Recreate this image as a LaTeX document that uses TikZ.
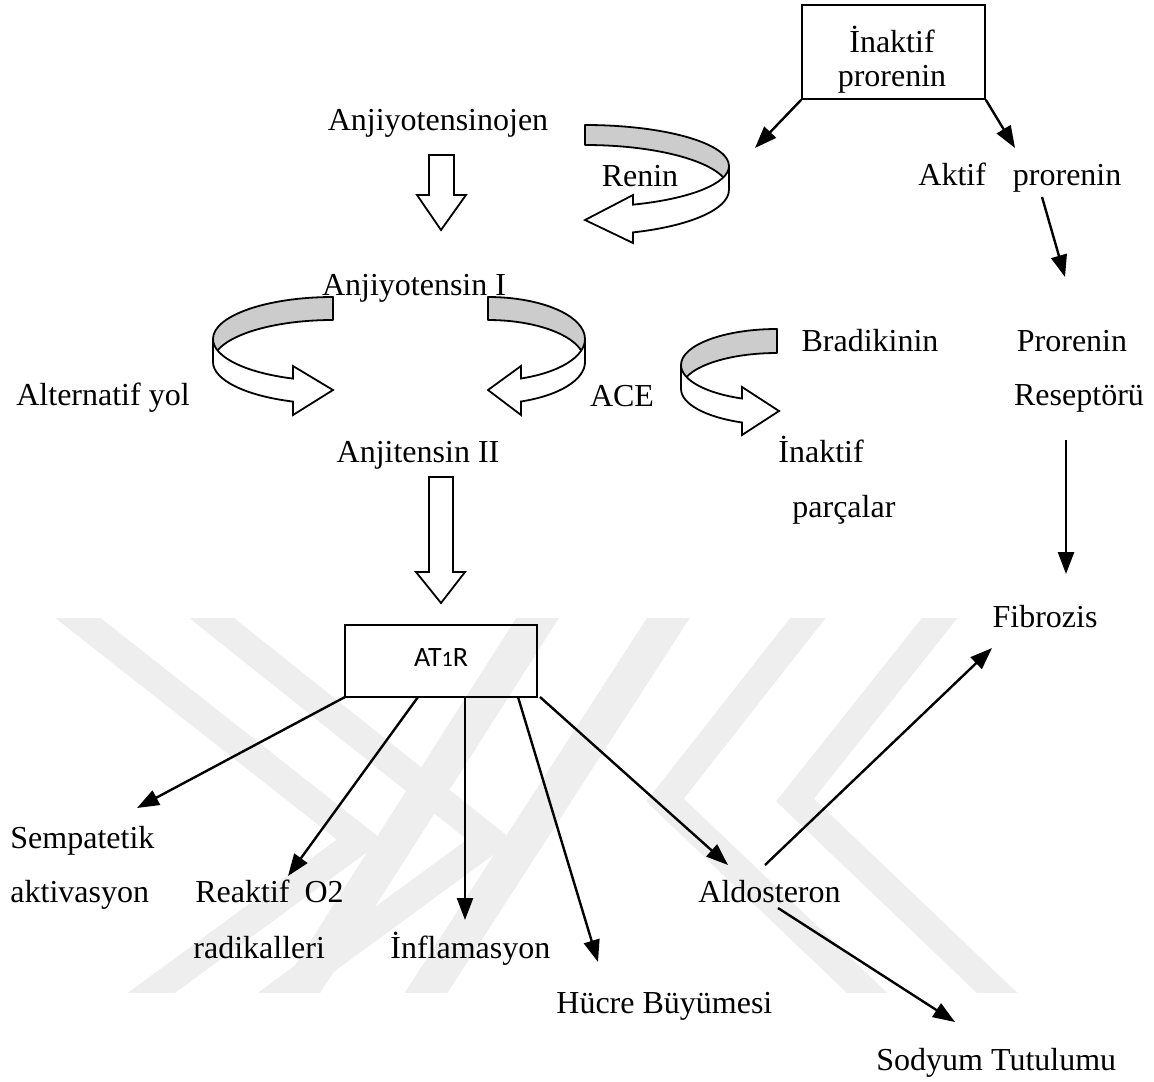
\documentclass[tikz,border=0pt]{standalone}
\usepackage{fontspec}
\setmainfont{Liberation Serif}
\newfontfamily\calfont{Carlito}
\usetikzlibrary{arrows.meta}
\definecolor{wm}{HTML}{EEEEEE}
\definecolor{ribbongray}{HTML}{CCCCCC}
\tikzset{
  lbl/.style={inner sep=0pt, font=\fontsize{16}{19}\selectfont},
  arr/.style={line width=1.2pt, -{Triangle[length=11pt,width=8pt]}},
  boxed/.style={draw, line width=0.8pt},
  ribbonback/.style={fill=ribbongray, draw, line width=0.9pt, line join=round},
  ribbonfront/.style={fill=white, draw, line width=0.9pt, line join=miter},
  hollow/.style={fill=white, draw, line width=0.9pt},
  wmline/.style={draw=wm, line width=14pt, line join=miter, line cap=butt},
  wmwide/.style={draw=wm, line width=18pt, line cap=butt}
}
\begin{document}
\begin{tikzpicture}[x=0.5pt, y=-0.5pt]
\useasboundingbox (0,0) rectangle (1154,1081);
% watermark
\begin{scope}
\clip (0,618) rectangle (1154,992);
\draw[wmline] (55,600) -- (360,840) -- (128,1010);
\draw[wmline] (189,600) -- (490,840) -- (258,1010);
\draw[wmwide] (549,600) -- (288,1010);
\draw[wmwide] (680,600) -- (415,1010);
\draw[wmline] (822,600) -- (665,800) -- (885,1010);
\draw[wmline] (954,600) -- (795,800) -- (1015,1010);
\end{scope}

% ---- top box
\node[boxed, minimum width=91.5pt, minimum height=47pt, inner sep=0pt] (inak) at (893.5,52) {};
\node[lbl, anchor=base] (inak1) at (892,53) {İnaktif};
\node[lbl, anchor=base] (inak2) at (892,87) {prorenin};
\coordinate (inakL) at (inak.south west);
\coordinate (inakR) at (inak.south east);
\coordinate (tipL) at (755,148);
\coordinate (tipR) at (1015,148);
\draw[arr] (inakL) -- (tipL);
\draw[arr] (inakR) -- (tipR);

% ---- texts
\node[lbl, anchor=base] (ajo) at (438,130) {Anjiyotensinojen};
\node[lbl, anchor=base] (renin) at (640,186) {Renin};
\node[lbl, anchor=base] (a1) at (414,295) {Anjiyotensin I};
\node[lbl, anchor=base] (alt) at (103,405) {Alternatif yol};
\node[lbl, anchor=base] (ace) at (622,406) {ACE};
\node[lbl, anchor=base] (a2) at (418,462) {Anjitensin II};
\node[lbl, anchor=base] (brad) at (870,351) {Bradikinin};
\node[lbl, anchor=base west] (inp1) at (778,462) {İnaktif};
\node[lbl, anchor=base west] (inp2) at (792,517) {parçalar};
\node[lbl, anchor=base west] (aktif) at (918,185) {Aktif\hspace{13.5pt}prorenin};
\node[lbl, anchor=base] (pr1) at (1072,351) {Prorenin};
\node[lbl, anchor=base] (pr2) at (1079,405) {Reseptörü};
\node[lbl, anchor=base] (fib) at (1045,627) {Fibrozis};
\node[lbl, anchor=base west] (sem1) at (10,848) {Sempatetik};
\node[lbl, anchor=base west] (sem2) at (10,902) {aktivasyon};
\node[lbl, anchor=base west] (rea1) at (195,902) {Reaktif\hspace{7.5pt}O2};
\node[lbl, anchor=base west] (rea2) at (193,958) {radikalleri};
\node[lbl, anchor=base west] (inf) at (390,958) {İnflamasyon};
\node[lbl, anchor=base west] (huc) at (556,1013) {Hücre Büyümesi};
\node[lbl, anchor=base west] (ald) at (698,902) {Aldosteron};
\node[lbl, anchor=base west] (sod) at (876,1070) {Sodyum Tutulumu};

% ---- AT1R box
\node[boxed, minimum width=96pt, minimum height=36pt, inner sep=0pt] (at1r) at (441,661) {};
\node[inner sep=0pt, anchor=base, font=\calfont\fontsize{14}{17}\selectfont] (at1rt) at (441,666) {AT{\fontsize{11}{13}\selectfont 1}R};

% ---- hollow straight arrows
\draw[hollow] (429,155) -- (454,155) -- (454,195) -- (466,195) -- (441,230) -- (417,195) -- (429,195) -- cycle;
\draw[hollow] (429,477) -- (453,477) -- (453,572) -- (465,572) -- (441,603) -- (416,572) -- (429,572) -- cycle;

% ---- ribbons
% Renin
\draw[ribbonback] (585,125) arc[start angle=-90,end angle=0,x radius=144,y radius=41] -- (729,190) arc[start angle=0,end angle=-90,x radius=144,y radius=45] -- cycle;
\draw[ribbonfront] (729,166) arc[start angle=0,end angle=70.5,x radius=144,y radius=41] -- (633,195) -- (585,220) -- (633,243) -- (633,232.4) arc[start angle=70.5,end angle=0,x radius=144,y radius=45] -- cycle;
% Alternatif
\draw[ribbonback] (333,297) arc[start angle=-90,end angle=-180,x radius=120,y radius=42] -- (213,362) arc[start angle=180,end angle=270,x radius=120,y radius=42] -- cycle;
\draw[ribbonfront] (213,339) arc[start angle=180,end angle=109.47,x radius=120,y radius=42] -- (293,366) -- (333,390) -- (293,415) -- (293,401.6) arc[start angle=109.47,end angle=180,x radius=120,y radius=42] -- cycle;
% ACE
\draw[ribbonback] (488,297) arc[start angle=-90,end angle=0,x radius=97,y radius=42] -- (585,362) arc[start angle=0,end angle=-90,x radius=97,y radius=42] -- cycle;
\draw[ribbonfront] (585,339) arc[start angle=0,end angle=70.11,x radius=97,y radius=42] -- (521,366) -- (488,390) -- (521,415) -- (521,401.5) arc[start angle=70.11,end angle=0,x radius=97,y radius=42] -- cycle;
% Bradikinin
\draw[ribbonback] (777,329) arc[start angle=-90,end angle=-180,x radius=96,y radius=36] -- (681,389) arc[start angle=180,end angle=270,x radius=96,y radius=36] -- cycle;
\draw[ribbonfront] (681,365) arc[start angle=180,end angle=111.4,x radius=96,y radius=36] -- (742,387) -- (779,411) -- (742,435) -- (742,422.5) arc[start angle=111.4,end angle=180,x radius=96,y radius=36] -- cycle;

% ---- right column arrows
\coordinate (akt0) at (1042,197);
\coordinate (pr0) at (1065,277);
\draw[arr] (akt0) -- (pr0);
\coordinate (res0) at (1066,440);
\coordinate (fib0) at (1066,574);
\draw[arr] (res0) -- (fib0);

% ---- AT1R arrows
\coordinate (o1) at (345,697); \coordinate (t1) at (137,808);
\coordinate (o2) at (418,697); \coordinate (t2) at (288,876);
\coordinate (o3) at (465,697); \coordinate (t3) at (465,920);
\coordinate (o4) at (518,697); \coordinate (t4) at (598,962);
\coordinate (o5) at (540,697); \coordinate (t5) at (728,865);
\draw[arr] (o1) -- (t1);
\draw[arr] (o2) -- (t2);
\draw[arr] (o3) -- (t3);
\draw[arr] (o4) -- (t4);
\draw[arr] (o5) -- (t5);
\coordinate (ald1) at (765,865); \coordinate (fibt) at (992,648);
\coordinate (ald2) at (778,908); \coordinate (sodt) at (955,1022);
\draw[arr] (ald1) -- (fibt);
\draw[arr] (ald2) -- (sodt);
\end{tikzpicture}
\end{document}
